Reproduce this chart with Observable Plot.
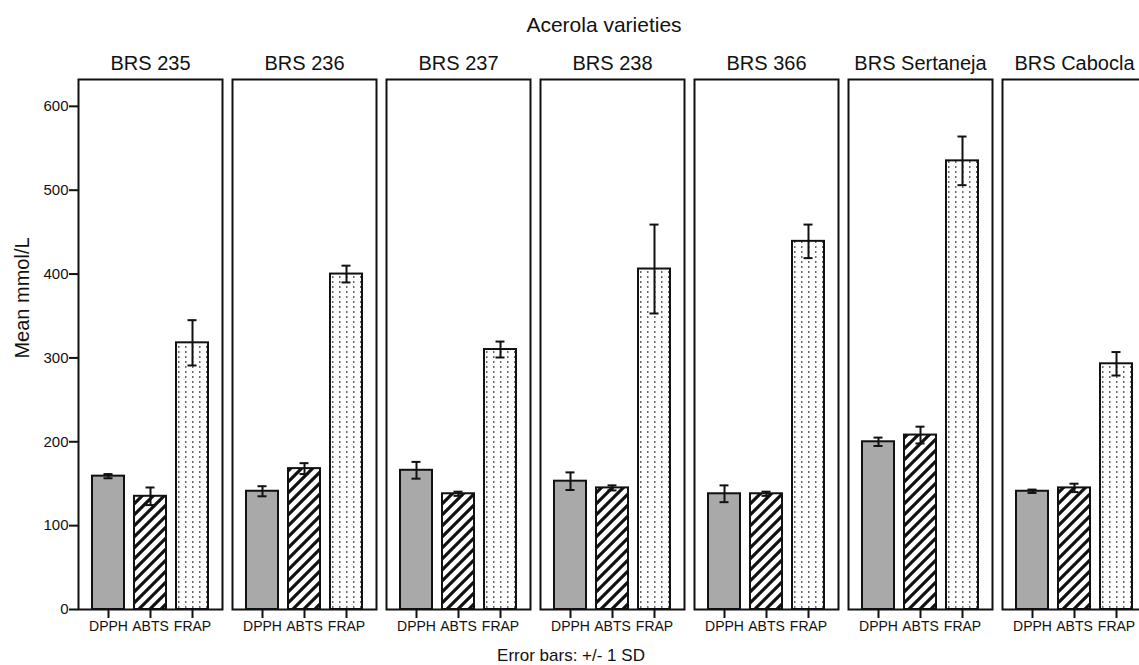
<!DOCTYPE html>
<html>
<head>
<meta charset="utf-8">
<script src="https://cdn.jsdelivr.net/npm/d3@7"></script>
<script src="https://cdn.jsdelivr.net/npm/@observablehq/plot@0.6"></script>
<style>
  html, body { margin: 0; padding: 0; background: #fff; overflow: hidden; width: 1139px; height: 665px; }
  #wrap { position: relative; width: 1139px; height: 665px; font-family: "Liberation Sans", Arial, sans-serif; color: #111; overflow: hidden; }
  #chart { position: absolute; left: 0; top: 0; width: 1150px; }
  #chart svg { max-width: none !important; width: 1150px !important; height: 665px !important; }
  .ann { position: absolute; white-space: nowrap; line-height: 1; }
  #title { font-size: 21px; left: 604px; top: 14px; transform: translateX(-50%); }
  #caption { font-size: 17px; left: 571px; top: 647px; transform: translateX(-50%); }
  #ylabel { font-size: 20px; left: 22px; top: 298px; transform: translate(-50%, -50%) rotate(-90deg); }
</style>
</head>
<body>
<svg width="0" height="0" style="position:absolute">
  <defs>
    <pattern id="hatch" patternUnits="userSpaceOnUse" width="11" height="11">
      <rect width="11" height="11" fill="#fff"/>
      <path d="M-2.75,2.75 L2.75,-2.75 M0,11 L11,0 M8.25,13.75 L13.75,8.25" stroke="#111" stroke-width="3.2"/>
    </pattern>
    <pattern id="dots" patternUnits="userSpaceOnUse" width="7" height="5">
      <rect width="7" height="5" fill="#fff"/>
      <rect x="3" y="1" width="1.5" height="2" fill="#666"/>
    </pattern>
  </defs>
</svg>
<div id="wrap">
  <div id="chart"></div>
  <div class="ann" id="title">Acerola varieties</div>
  <div class="ann" id="ylabel">Mean mmol/L</div>
  <div class="ann" id="caption">Error bars: +/- 1 SD</div>
</div>
<script>
const varieties = ["BRS 235", "BRS 236", "BRS 237", "BRS 238", "BRS 366", "BRS Sertaneja", "BRS Cabocla"];
const methods = ["DPPH", "ABTS", "FRAP"];
const dpphMean = [159, 141, 166, 153, 138, 200, 141];
const dpphSD   = [2.5, 6, 10, 10.5, 10, 5, 2];
const abtsMean = [135, 168, 138, 145, 138, 208, 145];
const abtsSD   = [10.5, 6.5, 2.5, 3, 2.5, 10, 5];
const frapMean = [318, 400, 310, 406, 439, 535, 293];
const frapSD   = [27, 10, 9.5, 53, 20, 29, 14];
const yTicks = [0, 100, 200, 300, 400, 500, 600];
const methodFills = ["#a9a9a9", "url(#hatch)", "url(#dots)"];

const means = {DPPH: dpphMean, ABTS: abtsMean, FRAP: frapMean};
const sds = {DPPH: dpphSD, ABTS: abtsSD, FRAP: frapSD};
const rows = varieties.flatMap((v, i) => methods.map(m => ({
  variety: v, method: m, mean: means[m][i], sd: sds[m][i]
})));

const ink = "#111";
const chart = Plot.plot({
  width: 1150,
  height: 665,
  marginTop: 79,
  marginBottom: 56,
  marginLeft: 78,
  marginRight: 4,
  style: {fontFamily: '"Liberation Sans", Arial, sans-serif', fontSize: "15px", color: ink, background: "#fff", maxWidth: "none"},
  fx: {domain: varieties, paddingInner: 0.065, paddingOuter: 0, label: null},
  x: {domain: methods, paddingInner: 0.2326, paddingOuter: 0.291, label: null},
  y: {domain: [0, 632], label: null},
  color: {type: "ordinal", domain: methods, range: methodFills},
  marks: [
    Plot.barY(rows, {fx: "variety", x: "method", y: "mean", fill: "method", stroke: ink, strokeWidth: 2}),
    Plot.ruleX(rows, {fx: "variety", x: "method", y1: d => d.mean - d.sd, y2: d => d.mean + d.sd, stroke: ink, strokeWidth: 2}),
    Plot.tickY(rows, {fx: "variety", x: "method", y: d => d.mean - d.sd, stroke: ink, strokeWidth: 2, insetLeft: 11.5, insetRight: 11.5}),
    Plot.tickY(rows, {fx: "variety", x: "method", y: d => d.mean + d.sd, stroke: ink, strokeWidth: 2, insetLeft: 11.5, insetRight: 11.5}),
    Plot.frame({stroke: ink, strokeWidth: 2}),
    Plot.axisY({ticks: yTicks, tickSize: 9, tickPadding: 1, fontSize: 15, label: null, strokeWidth: 2}),
    Plot.axisX({tickSize: 9, tickPadding: 3, fontSize: 14, label: null, strokeWidth: 2}),
    Plot.axisFx({anchor: "top", tickSize: 0, tickPadding: 10, fontSize: 20, label: null})
  ]
});
document.getElementById("chart").appendChild(chart);
// enforce label sizes with inline styles
d3.select(chart).selectAll("text").each(function() {
  const t = (this.textContent || "").trim();
  if (/^\d+$/.test(t)) this.style.fontSize = "15px";
  else if (methods.includes(t)) this.style.fontSize = "14px";
  else if (varieties.includes(t)) this.style.fontSize = "20px";
});
</script>
</body>
</html>
